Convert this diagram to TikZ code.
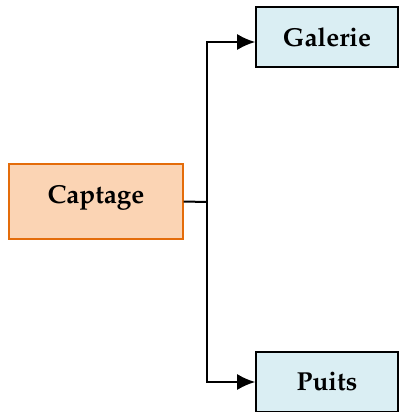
\documentclass[tikz,border=0pt]{standalone}
\usepackage[T1]{fontenc}
\usepackage{mathpazo}
\usetikzlibrary{arrows.meta}
\definecolor{captfill}{HTML}{FBD4B4}
\definecolor{captline}{HTML}{E46C0A}
\definecolor{ouvfill}{HTML}{DAEEF3}
\tikzset{every node/.style={font=\fontsize{13}{15}\selectfont\bfseries, inner sep=0pt},
         link/.style={black, line width=1pt},
         captbox/.style={draw=captline, fill=captfill, line width=0.8pt, minimum width=86.75pt, minimum height=37.5pt},
         ouvbox/.style={draw=black, fill=ouvfill, line width=0.8pt, minimum width=71pt, minimum height=30pt}}

\begin{document}
\begin{tikzpicture}[x=0.5pt,y=-0.5pt]
   \useasboundingbox (0,0) rectangle (400,412);
   \node[captbox] (captage) at ( 96.0,201.5) {\raisebox{7pt}{Captage}};
   \node[ouvbox]  (galerie) at (327.0, 37.0) {Galerie};
   \node[ouvbox]  (puits)   at (327.0,382.0) {Puits};
   \coordinate (fork) at (207.0,202.0);
   \draw[link] (captage.east) -- (fork);
   \draw[link,-{Latex[length=9pt,width=8pt]}] (fork) |- ([yshift=-2.5pt]galerie.west);
   \draw[link,-{Latex[length=9pt,width=8pt]}] (fork) |- (puits.west);
  \end{tikzpicture}
\end{document}
